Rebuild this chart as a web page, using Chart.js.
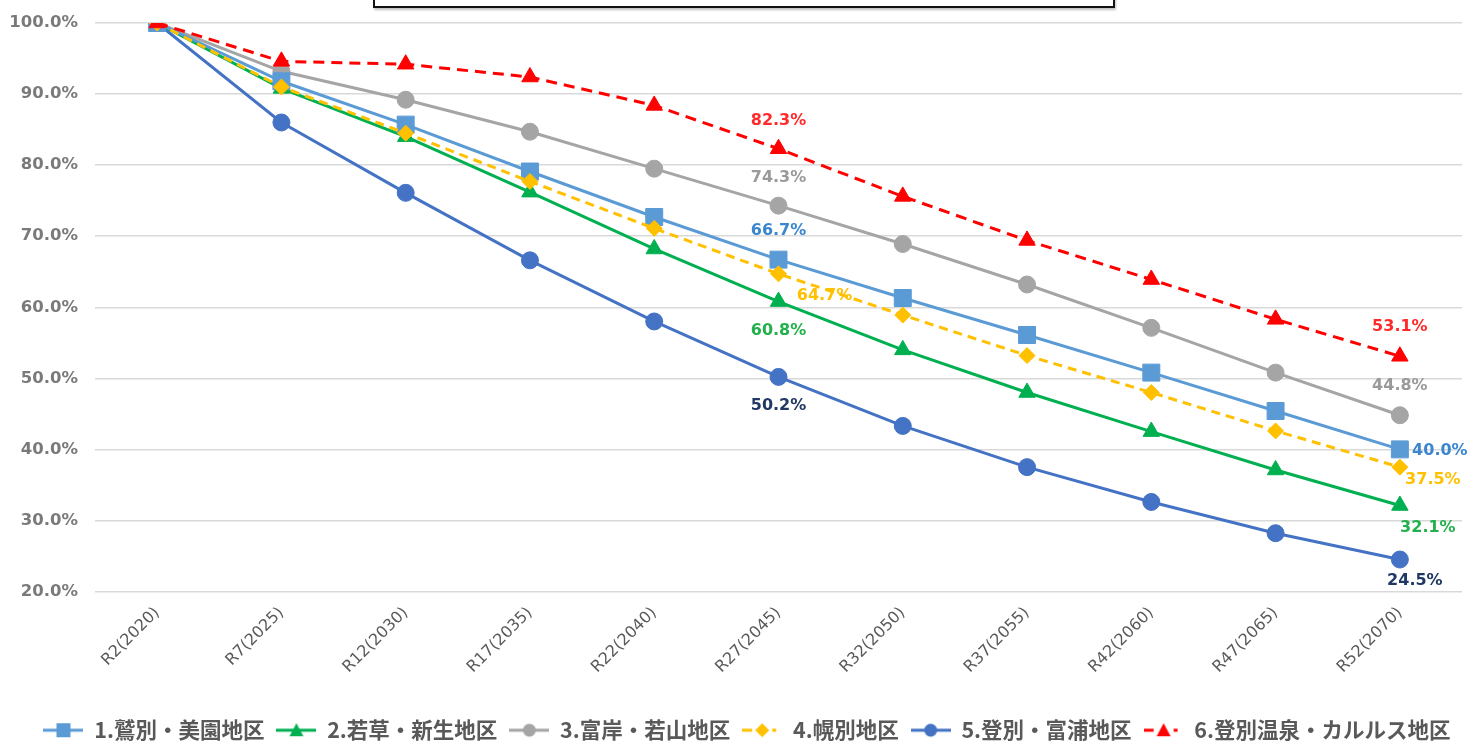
<!DOCTYPE html>
<html>
<head>
<meta charset="utf-8">
<script src="https://cdn.jsdelivr.net/npm/chart.js@4.4.1/dist/chart.umd.min.js"></script>
<style>
  html, body { margin: 0; padding: 0; background: #ffffff; }
  #wrap { position: relative; width: 1483px; height: 745px; overflow: hidden; }
  #topbox { position: absolute; left: 373px; top: -12px; width: 738px; height: 16px;
            border: 2px solid #111; background: #fff; box-shadow: 1px 2px 2px rgba(0,0,0,0.25); }
  canvas { position: absolute; left: 0; top: 0; }
</style>
</head>
<body>
<div id="wrap">
  <canvas id="c" width="1483" height="745"></canvas>
  <div id="topbox"></div>
</div>
<script>
// ---- data ----
const categories = ['R2(2020)','R7(2025)','R12(2030)','R17(2035)','R22(2040)','R27(2045)','R32(2050)','R37(2055)','R42(2060)','R47(2065)','R52(2070)'];
const seriesNames = ['1.鷲別・美園地区','2.若草・新生地区','3.富岸・若山地区','4.幌別地区','5.登別・富浦地区','6.登別温泉・カルルス地区'];
const washibetsu = [100, 91.8, 85.7, 79.1, 72.7, 66.7, 61.3, 56.1, 50.8, 45.4, 40.0];
const wakakusa   = [100, 90.8, 84.0, 76.2, 68.2, 60.8, 54.0, 48.0, 42.5, 37.1, 32.1];
const tomikishi  = [100, 93.2, 89.2, 84.7, 79.5, 74.3, 68.9, 63.2, 57.1, 50.8, 44.8];
const horobetsu  = [100, 91.0, 84.5, 77.7, 71.1, 64.7, 58.9, 53.2, 48.0, 42.6, 37.5];
const noboribetsu= [100, 86.0, 76.1, 66.6, 58.0, 50.2, 43.3, 37.5, 32.6, 28.2, 24.5];
const onsen      = [100, 94.6, 94.2, 92.4, 88.4, 82.3, 75.6, 69.4, 63.9, 58.3, 53.1];
const yMin = 20, yMax = 100, yStep = 10;

// ---- styles ----
const colors = ['#5B9BD5','#00B050','#A5A5A5','#FFC000','#4472C4','#FF0000'];
const labelColors = ['#3A87D0','#22B14C','#9A9A9A','#FFC000','#1F3864','#FF2B2B'];
const styles = ['rect','triangle','circle','rectRot','circle','triangle'];
const radii = [12, 9.5, 8.5, 8, 8.5, 9.5];
const dashes = [[],[],[],[9,6],[],[11,7]];
const orders = [2,3,4,1,5,0];
// label placements: [index, dx, dy]
const labelPlacements = [
  [[5,0,-29],[10,40,1]],
  [[5,0,29],[10,28,22]],
  [[5,0,-28],[10,0,-29]],
  [[5,46,22],[10,33,13]],
  [[5,0,29],[10,15,21]],
  [[5,0,-28],[10,0,-29]]
];
const seriesValues = [washibetsu, wakakusa, tomikishi, horobetsu, noboribetsu, onsen];

function legendImage(i) {
  const cv = document.createElement('canvas');
  cv.width = 40; cv.height = 18;
  const g = cv.getContext('2d');
  g.strokeStyle = colors[i]; g.fillStyle = colors[i]; g.lineWidth = 3;
  const cy = 9, cx = 20;
  g.beginPath();
  if (dashes[i].length) {
    g.moveTo(0, cy); g.lineTo(10, cy);
    g.moveTo(30, cy); g.lineTo(34, cy);
  } else {
    g.moveTo(0, cy); g.lineTo(40, cy);
  }
  g.stroke();
  g.beginPath();
  const s = styles[i];
  if (s === 'rect') { g.rect(cx-7, cy-7, 14, 14); }
  else if (s === 'circle') { g.arc(cx, cy, 6.5, 0, Math.PI*2); }
  else if (s === 'rectRot') { g.moveTo(cx-7, cy); g.lineTo(cx, cy-7); g.lineTo(cx+7, cy); g.lineTo(cx, cy+7); g.closePath(); }
  else if (s === 'triangle') { g.moveTo(cx, cy-7); g.lineTo(cx+7, cy+6); g.lineTo(cx-7, cy+6); g.closePath(); }
  g.fill();
  return cv;
}
const legendImgs = seriesNames.map((_, i) => legendImage(i));

const datasets = seriesNames.map((name, i) => ({
  label: name,
  data: seriesValues[i],
  borderColor: colors[i],
  backgroundColor: colors[i],
  borderWidth: 3,
  borderDash: dashes[i],
  pointStyle: styles[i],
  pointRadius: radii[i],
  pointHoverRadius: radii[i],
  pointBorderWidth: 1,
  pointBackgroundColor: colors[i],
  pointBorderColor: colors[i],
  tension: 0,
  fill: false,
  order: orders[i]
}));

const valueLabels = {
  id: 'valueLabels',
  afterDatasetsDraw(chart) {
    const ctx = chart.ctx;
    ctx.save();
    ctx.font = 'bold 16px "DejaVu Sans", sans-serif';
    ctx.textAlign = 'center';
    ctx.textBaseline = 'middle';
    chart.data.datasets.forEach((ds, i) => {
      const meta = chart.getDatasetMeta(i);
      labelPlacements[i].forEach(([idx, dx, dy]) => {
        const p = meta.data[idx];
        ctx.fillStyle = labelColors[i];
        ctx.fillText(ds.data[idx].toFixed(1) + '%', p.x + dx, p.y + dy);
      });
    });
    ctx.restore();
  }
};

// shift the legend block slightly to the right (its centre in the reference is right of the canvas centre)
const legendShift = {
  id: 'legendShift',
  afterLayout(chart) {
    if (chart.legend) { chart.legend.left += 16; chart.legend.right += 16; }
  }
};

new Chart(document.getElementById('c'), {
  type: 'line',
  data: { labels: categories, datasets },
  options: {
    responsive: false,
    animation: false,
    devicePixelRatio: 1,
    layout: { padding: { top: 23, right: 21, left: 0, bottom: -6 } },
    plugins: {
      tooltip: { enabled: false },
      legend: {
        position: 'bottom',
        labels: {
          usePointStyle: true,
          pointStyleWidth: 40,
          padding: 12,
          color: '#595959',
          font: { family: '"Noto Sans CJK JP", sans-serif', size: 21.5, weight: 'bold' },
          sort: (a, b) => a.datasetIndex - b.datasetIndex,
          generateLabels(chart) {
            const items = Chart.defaults.plugins.legend.labels.generateLabels(chart);
            items.forEach(it => { it.pointStyle = legendImgs[it.datasetIndex]; });
            return items;
          }
        }
      }
    },
    scales: {
      x: {
        offset: true,
        grid: { display: false },
        border: { display: false },
        ticks: {
          color: '#595959',
          font: { family: '"DejaVu Sans", sans-serif', size: 16 },
          minRotation: 45, maxRotation: 45,
          padding: 4,
          autoSkip: false
        },
        afterFit(s) { s.height = 116; }
      },
      y: {
        min: yMin, max: yMax,
        border: { display: false },
        grid: { color: '#D9D9D9', lineWidth: 1.5, drawTicks: false },
        ticks: {
          stepSize: yStep,
          padding: 17,
          color: '#7A7A7A',
          font: { family: '"DejaVu Sans", sans-serif', size: 16.5, weight: 'bold' },
          callback: v => v.toFixed(1) + '%'
        },
        afterFit(s) { s.width = 95; s.paddingTop = 0; s.paddingBottom = 0; }
      }
    }
  },
  plugins: [valueLabels, legendShift]
});
</script>
</body>
</html>
